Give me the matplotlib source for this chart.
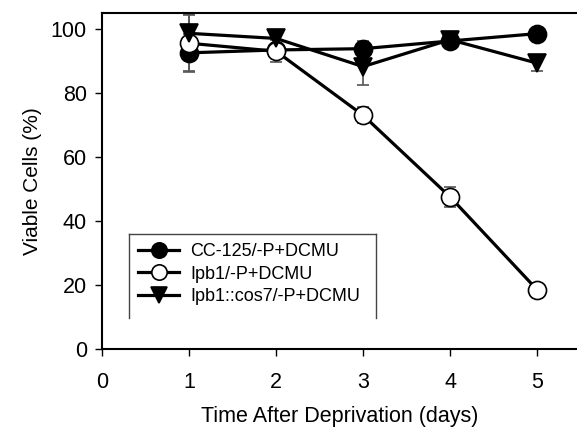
import matplotlib
matplotlib.use("Agg")
import matplotlib.pyplot as plt
from matplotlib.lines import Line2D

plt.rcParams['font.family'] = ['Liberation Sans', 'DejaVu Sans']

days = [1, 2, 3, 4, 5]
cc125 = [92.5, 93.4, 93.8, 96.2, 98.5]
cc125_err = [6, 1.5, 2.5, 1.5, 1]
ipb1 = [95.5, 93, 73, 47.5, 18.5]
ipb1_err = [8.7, 3.5, 2.5, 3.2, 1]
cos7 = [98.6, 97, 88.2, 96.6, 89.3]
cos7_err = [6, 2, 5.7, 1.5, 2.5]
labels = ['CC-125/-P+DCMU', 'Ipb1/-P+DCMU', 'Ipb1::cos7/-P+DCMU']

fig = plt.figure(figsize=(5.77, 4.28), dpi=100)
ax = fig.add_axes([0.177, 0.185, 0.823, 0.785])

series = [(cc125, cc125_err, 'o', 'black'),
          (ipb1, ipb1_err, 'o', 'white'),
          (cos7, cos7_err, 'v', 'black')]
for (vals, errs, mk, fc), lab in zip(series, labels):
    ax.errorbar(days, vals, yerr=errs, fmt='none', ecolor='#555555',
                elinewidth=1.2, capsize=4, capthick=1.2, zorder=1)
    ax.plot(days, vals, color='black', lw=2.3, marker=mk, markersize=13,
            markerfacecolor=fc, markeredgecolor='black', markeredgewidth=1.2,
            label=lab, zorder=3)

ax.set_xlim(0, 5.46)
ax.set_ylim(0, 105)
ax.set_xticks([0, 1, 2, 3, 4, 5])
ax.set_yticks([0, 20, 40, 60, 80, 100])
ax.spines['right'].set_visible(False)
for s in ['left', 'bottom', 'top']:
    ax.spines[s].set_linewidth(1.5)
ax.tick_params(labelsize=15.5, direction='out', length=5, width=1)
ax.tick_params(axis='x', pad=12)
ax.tick_params(axis='y', pad=6)
ax.set_xlabel('Time After Deprivation (days)', fontsize=15.5, labelpad=9)
ax.set_ylabel('Viable Cells (%)', fontsize=15, labelpad=6)

leg = ax.legend(loc='upper left', bbox_to_anchor=(0.037, 0.368), fontsize=13,
                frameon=False, handlelength=2.3, markerscale=0.85,
                borderpad=0.5, labelspacing=0.3, handletextpad=0.6)

# legend box: top and sides only, like the original
fig.canvas.draw()
bb = leg.get_window_extent().transformed(fig.transFigure.inverted())
y_bot = bb.y0 - 0.01
x_right = bb.x1 + 0.012
for xs, ys in [([bb.x0, x_right], [bb.y1, bb.y1]),
               ([bb.x0, bb.x0], [y_bot, bb.y1]),
               ([x_right, x_right], [y_bot, bb.y1])]:
    fig.add_artist(Line2D(xs, ys, color='#444444', lw=1, transform=fig.transFigure))

fig.savefig('out.png', dpi=100)
